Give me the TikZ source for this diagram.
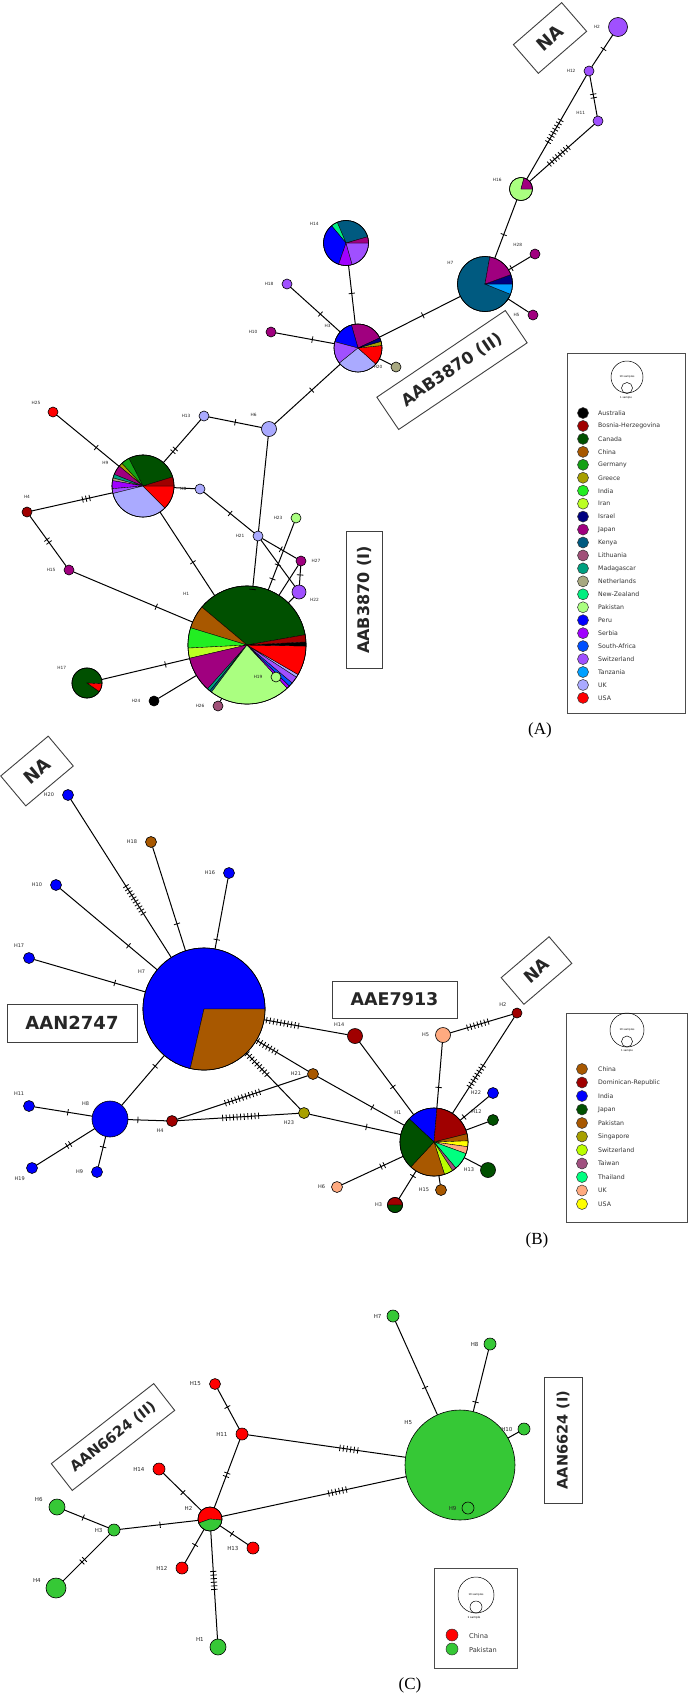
\documentclass[tikz,border=0pt]{standalone}
\usepackage{fontspec}
\setmainfont{DejaVu Sans}
\newfontfamily\capfont{Liberation Serif}
\usetikzlibrary{calc, positioning}

% --- Colours (A) ---
\definecolor{cAus}{HTML}{000000}
\definecolor{cBos}{HTML}{A00000}
\definecolor{cCan}{HTML}{005000}
\definecolor{cChi}{HTML}{A85800}
\definecolor{cGer}{HTML}{14A014}
\definecolor{cGre}{HTML}{A8A000}
\definecolor{cInd}{HTML}{22EE22}
\definecolor{cIra}{HTML}{BBFF22}
\definecolor{cIsr}{HTML}{000080}
\definecolor{cJap}{HTML}{A0007F}
\definecolor{cKen}{HTML}{005A80}
\definecolor{cLit}{HTML}{A05078}
\definecolor{cMad}{HTML}{00A080}
\definecolor{cNet}{HTML}{A8A880}
\definecolor{cNze}{HTML}{00F080}
\definecolor{cPak}{HTML}{AAFF80}
\definecolor{cPer}{HTML}{0000FF}
\definecolor{cSer}{HTML}{A000FF}
\definecolor{cSaf}{HTML}{0050FF}
\definecolor{cSwi}{HTML}{A050FF}
\definecolor{cTan}{HTML}{00A0FF}
\definecolor{cUk}{HTML}{AAAAFF}
\definecolor{cUsa}{HTML}{FF0000}
% --- Colours (B) ---
\definecolor{cChB}{HTML}{A85800}
\definecolor{cDom}{HTML}{A00000}
\definecolor{cInB}{HTML}{0000FF}
\definecolor{cJpB}{HTML}{005000}
\definecolor{cPkB}{HTML}{A85800}
\definecolor{cSin}{HTML}{A8A000}
\definecolor{cSwB}{HTML}{BBFF00}
\definecolor{cTai}{HTML}{A05080}
\definecolor{cTha}{HTML}{00FF80}
\definecolor{cUkB}{HTML}{FFAA80}
\definecolor{cUsB}{HTML}{FFFF00}
% --- Colours (C) ---
\definecolor{cChC}{HTML}{FF0000}
\definecolor{cPkC}{HTML}{36C836}

% edge with mutation ticks: from, to, number of ticks, position
\newcommand{\mutticks}[4]{%
  \coordinate (tk_mid) at ($(#1)!#4!(#2)$);
  \foreach \k in {1,...,#3}{
    \pgfmathsetmacro{\tkoff}{(\k-(#3+1)/2)*3.6}
    \coordinate (tk_pt) at ($(tk_mid)!\tkoff pt!(#2)$);
    \draw[tick] ($(tk_pt)!3.2pt!90:(#2)$) -- ($(tk_pt)!3.2pt!-90:(#2)$);
  }%
}
\newcommand{\mutedge}[4]{%
  \draw[edge] (#1) -- (#2);
  \ifnum#3>0 \mutticks{#1}{#2}{#3}{#4}\fi
}
% pie chart on a haplotype node: node, radius, slices start/end/colour
\newcommand{\hapie}[3]{%
  \foreach \sa/\ea/\col in {#3}{
    \filldraw[fill=\col, draw=black, line width=0.35pt] (#1.center) -- ++(\sa:#2) arc[start angle=\sa, end angle=\ea, radius=#2] -- cycle;
  }
  \draw[line width=0.6pt] (#1.center) circle[radius=#2];
}

\begin{document}
\begin{tikzpicture}[
    x=1pt, y=-1pt,
    label distance=5pt,
    % --- Styles ---
    hap/.style={circle, draw=black, line width=0.6pt, inner sep=0pt, outer sep=0pt, minimum size=#1},
    hlab/.style={font=\fontsize{#1}{#1}\selectfont, text=black!85},
    hlab/.default=4.3,
    edge/.style={draw, line width=1pt},
    tick/.style={draw, line width=0.8pt},
    clade/.style={draw=black!75, line width=0.9pt, inner sep=0pt, text=black!85,
        font=\fontsize{#1}{#1}\selectfont\bfseries},
    legbox/.style={draw=black!70, line width=0.8pt, inner sep=0pt},
    sizecirc/.style={circle, draw=black, line width=0.5pt, inner sep=0pt, minimum size=#1,
        font=\fontsize{2.6}{3}\selectfont},
    legdot/.style={circle, draw=black!80, line width=0.5pt, inner sep=0pt, minimum size=#1},
    legdot/.default=11pt,
    legtext/.style={anchor=west, inner sep=0pt, text=black!80, font=\fontsize{#1}{#1}\selectfont},
    legtext/.default=6.2,
    panel/.style={font=\capfont\fontsize{17}{17}\selectfont}
    ]

    \fill[white] (0,0) rectangle (688,1698);
    \useasboundingbox (0,0) rectangle (688,1698);

    % ======================= (A) =======================
    % --- 1. Pie nodes ---
    \node[hap=118pt, label={[hlab, label distance=12pt]140:H1}] (a_h1) at (247,645) {};
    \node[hap=62pt, label={[hlab]150:H9}] (a_h9) at (143,486) {};
    \node[hap=48pt, label={[hlab]145:H3}] (a_h3) at (358,348) {};
    \node[hap=55pt, label={[hlab]150:H7}] (a_h7) at (485,284) {};
    \node[hap=45pt, label={[hlab]150:H14}] (a_h14) at (346,243) {};
    \node[hap=23pt, label={[hlab]165:H16}] (a_h16) at (521,189) {};
    \node[hap=30pt, label={[hlab]150:H17}] (a_h17) at (87,683) {};

    \hapie{a_h1}{59pt}{10/140/cCan, 140/163/cChi, 163/183/cInd, 183/193/cIra, 193/228/cJap, 228/231/cMad, 231/233/cKen, 233/313/cPak, 313/316/cSer, 316/320/cSaf, 320/327/cSwi, 327/330/cUk, 330/359/cUsa, 359/363/cAus, 363/370/cBos}
    \hapie{a_h9}{31pt}{17/117/cCan, 117/133/cGer, 133/140/cGre, 140/158/cJap, 158/165/cMad, 165/170/cNet, 170/185/cSer, 185/194/cSwi, 194/315/cUk, 315/360/cUsa, 0/17/cBos}
    \hapie{a_h3}{24pt}{25/106/cJap, 106/165/cPer, 165/219/cSwi, 219/318/cUk, 318/366/cUsa, 6/16/cGre, 16/25/cIsr}
    \hapie{a_h7}{27.5pt}{80/338/cKen, 338/360/cTan, 0/20/cIsr, 20/80/cJap}
    \hapie{a_h14}{22.5pt}{16/113/cKen, 113/130/cNze, 130/251/cPer, 251/286/cSer, 286/360/cSwi, 0/16/cJap}
    \hapie{a_h16}{11.5pt}{75/360/cPak, 0/75/cJap}
    \hapie{a_h17}{15pt}{-3/325/cCan, 325/357/cUsa}

    % --- 2. Single nodes ---
    \node[hap=19pt, fill=cSwi, label={[hlab]left:H2}] (a_h2) at (618,27) {};
    \node[hap=10pt, fill=cSwi, label={[hlab]left:H12}] (a_h12) at (589,71) {};
    \node[hap=10pt, fill=cSwi, label={[hlab]160:H11}] (a_h11) at (598,121) {};
    \node[hap=10pt, fill=cJap, label={[hlab]160:H28}] (a_h28) at (535,254) {};
    \node[hap=10pt, fill=cJap, label={[hlab]left:H5}] (a_h5) at (533,315) {};
    \node[hap=10pt, fill=cSwi, label={[hlab]left:H18}] (a_h18) at (287,284) {};
    \node[hap=10pt, fill=cJap, label={[hlab]left:H10}] (a_h10) at (271,332) {};
    \node[hap=10pt, fill=cNet, label={[hlab]left:H20}] (a_h20) at (396,367) {};
    \node[hap=15pt, fill=cUk, label={[hlab]135:H6}] (a_h6) at (269,429) {};
    \node[hap=10pt, fill=cUk, label={[hlab]left:H13}] (a_h13) at (204,416) {};
    \node[hap=10pt, fill=cUsa, label={[hlab]155:H25}] (a_h25) at (53,412) {};
    \node[hap=10pt, fill=cBos, label={[hlab]above:H4}] (a_h4) at (27,512) {};
    \node[hap=10pt, fill=cJap, label={[hlab]left:H15}] (a_h15) at (69,570) {};
    \node[hap=10pt, fill=cUk, label={[hlab]left:H8}] (a_h8) at (200,489) {};
    \node[hap=10pt, fill=cUk, label={[hlab]left:H21}] (a_h21) at (258,536) {};
    \node[hap=10pt, fill=cPak, label={[hlab]left:H23}] (a_h23) at (296,518) {};
    \node[hap=10pt, fill=cJap, label={[hlab, label distance=2pt]right:H27}] (a_h27) at (301,561) {};
    \node[hap=14pt, fill=cSwi, label={[hlab, label distance=1pt]-20:H22}] (a_h22) at (299,592) {};
    \node[hap=10pt, fill=cAus, label={[hlab]left:H24}] (a_h24) at (154,701) {};
    \node[hap=10pt, fill=cLit, label={[hlab]left:H26}] (a_h26) at (218,706) {};
    \node[hap=10pt, fill=cPak, label={[hlab]left:H19}] (a_h19) at (276,677) {};

    % --- 3. Connections ---
    \mutedge{a_h2}{a_h12}{1}{0.5}
    \mutedge{a_h12}{a_h11}{2}{0.5}
    \mutedge{a_h12}{a_h16}{8}{0.51}
    \mutedge{a_h11}{a_h16}{8}{0.51}
    \mutedge{a_h16}{a_h7}{1}{0.48}
    \mutedge{a_h28}{a_h7}{1}{0.47}
    \mutedge{a_h5}{a_h7}{1}{0.52}
    \mutedge{a_h3}{a_h7}{1}{0.51}
    \mutedge{a_h14}{a_h3}{1}{0.48}
    \mutedge{a_h18}{a_h3}{1}{0.47}
    \mutedge{a_h10}{a_h3}{1}{0.475}
    \mutedge{a_h20}{a_h3}{0}{0}
    \mutedge{a_h3}{a_h6}{1}{0.52}
    \mutedge{a_h13}{a_h6}{1}{0.48}
    \mutedge{a_h9}{a_h13}{2}{0.51}
    \mutedge{a_h25}{a_h9}{1}{0.48}
    \mutedge{a_h4}{a_h9}{3}{0.51}
    \mutedge{a_h9}{a_h8}{0}{0}
    \mutedge{a_h8}{a_h21}{1}{0.52}
    \mutedge{a_h4}{a_h15}{2}{0.5}
    \mutedge{a_h15}{a_h1}{1}{0.49}
    \mutedge{a_h9}{a_h1}{1}{0.48}
    \mutedge{a_h6}{a_h21}{0}{0}
    \mutedge{a_h21}{a_h1}{1}{0.49}
    \mutedge{a_h21}{a_h27}{1}{0.53}
    \mutedge{a_h21}{a_h22}{0}{0}
    \mutedge{a_h27}{a_h22}{1}{0.45}
    \mutedge{a_h27}{a_h1}{0}{0}
    \mutedge{a_h22}{a_h1}{0}{0}
    \mutedge{a_h23}{a_h1}{1}{0.37}
    \mutticks{a_h23}{a_h1}{1}{0.48}
    \mutedge{a_h17}{a_h1}{1}{0.49}
    \mutedge{a_h24}{a_h1}{0}{0}
    \mutedge{a_h26}{a_h1}{0}{0}

    % --- 4. Clade boxes ---
    \node[clade=18, minimum width=64pt, minimum height=38pt, rotate=41] (a_na) at (550,38) {NA};
    \node[clade=16.5, minimum width=155pt, minimum height=39pt, rotate=34] (a_c2) at (452,370) {AAB3870 (II)};
    \node[clade=16, minimum width=137pt, minimum height=36pt, rotate=90] (a_c1) at (364,600) {AAB3870 (I)};

    % --- 5. Legend ---
    \node[legbox, minimum width=118pt, minimum height=360pt] (leg_a) at (626,533) {};
    \node[sizecirc=32pt] (leg_a_big) at (627,377) {10 samples};
    \node[sizecirc=11pt] (leg_a_small) at (627,388) {};
    \node[font=\fontsize{2.6}{3}\selectfont] (leg_a_one) at (626,398) {1 sample};
    \foreach \cname/\ccol [count=\i from 0] in {Australia/cAus, Bosnia-Herzegovina/cBos, Canada/cCan, China/cChi, Germany/cGer, Greece/cGre, India/cInd, Iran/cIra, Israel/cIsr, Japan/cJap, Kenya/cKen, Lithuania/cLit, Madagascar/cMad, Netherlands/cNet, New-Zealand/cNze, Pakistan/cPak, Peru/cPer, Serbia/cSer, South-Africa/cSaf, Switzerland/cSwi, Tanzania/cTan, UK/cUk, USA/cUsa}{
      \node[legdot, fill=\ccol] (leg_a_d\i) at (583,{413+\i*12.95}) {};
      \node[legtext] (leg_a_t\i) at (598,{413+\i*12.95}) {\cname};
    }
    \node[panel] (lab_a) at (540,730) {(A)};

    % ======================= (B) =======================
    % --- 1. Pie nodes ---
    \node[hap=122pt, label={[hlab=5, label distance=3pt]150:H7}] (b_h7) at (204,1009) {};
    \node[hap=68pt, label={[hlab=5, label distance=4pt]140:H1}] (b_h1) at (434,1142) {};
    \node[hap=15pt, label={[hlab=5, label distance=2pt]left:H3}] (b_h3) at (395,1205) {};

    \hapie{b_h7}{61pt}{0/257/cInB, 257/360/cPkB}
    \hapie{b_h1}{34pt}{85/137/cInB, 14/85/cDom, 2/14/cChB, -8/2/cUsB, -20/-8/cUkB, -50/-20/cTha, -57/-50/cTai, -72/-57/cSwB, -133/-72/cPkB, 137/227/cJpB}
    \hapie{b_h3}{7.5pt}{0/180/cDom, 180/360/cJpB}

    % --- 2. Single nodes ---
    \node[hap=11pt, fill=cInB, label={[hlab=5]left:H20}] (b_h20) at (68,795) {};
    \node[hap=11pt, fill=cChB, label={[hlab=5]left:H18}] (b_h18) at (151,842) {};
    \node[hap=11pt, fill=cInB, label={[hlab=5]left:H16}] (b_h16) at (229,873) {};
    \node[hap=11pt, fill=cInB, label={[hlab=5]left:H10}] (b_h10) at (56,885) {};
    \node[hap=11pt, fill=cInB, label={[hlab=5, label distance=2pt]100:H17}] (b_h17) at (29,958) {};
    \node[hap=36pt, fill=cInB, label={[hlab=5, label distance=2pt]150:H8}] (b_h8) at (110,1119) {};
    \node[hap=11pt, fill=cInB, label={[hlab=5, label distance=2pt]100:H11}] (b_h11) at (29,1106) {};
    \node[hap=11pt, fill=cInB, label={[hlab=5, label distance=1pt]-125:H19}] (b_h19) at (32,1168) {};
    \node[hap=11pt, fill=cInB, label={[hlab=5]left:H9}] (b_h9) at (97,1172) {};
    \node[hap=11pt, fill=cDom, label={[hlab=5, label distance=1pt]-140:H4}] (b_h4) at (172,1121) {};
    \node[hap=15pt, fill=cDom, label={[hlab=5, label distance=2pt]140:H14}] (b_h14) at (355,1036) {};
    \node[hap=11pt, fill=cChB, label={[hlab=5, label distance=3pt]left:H21}] (b_h21) at (313,1074) {};
    \node[hap=11pt, fill=cSin, label={[hlab=5, label distance=2pt]-150:H23}] (b_h23) at (304,1113) {};
    \node[hap=15pt, fill=cUkB, label={[hlab=5, label distance=3pt]left:H5}] (b_h5) at (443,1035) {};
    \node[hap=10pt, fill=cDom, label={[hlab=5, label distance=3pt]155:H2}] (b_h2) at (517,1013) {};
    \node[hap=11pt, fill=cInB, label={[hlab=5, label distance=3pt]left:H22}] (b_h22) at (493,1093) {};
    \node[hap=11pt, fill=cJpB, label={[hlab=5, label distance=3pt]160:H12}] (b_h12) at (493,1120) {};
    \node[hap=15pt, fill=cJpB, label={[hlab=5, label distance=3pt]left:H13}] (b_h13) at (488,1170) {};
    \node[hap=11pt, fill=cChB, label={[hlab=5, label distance=3pt]left:H15}] (b_h15) at (441,1190) {};
    \node[hap=11pt, fill=cUkB, label={[hlab=5, label distance=3pt]left:H6}] (b_h6) at (337,1187) {};

    % --- 3. Connections ---
    \mutedge{b_h20}{b_h7}{10}{0.49}
    \mutedge{b_h18}{b_h7}{1}{0.49}
    \mutedge{b_h16}{b_h7}{1}{0.49}
    \mutedge{b_h10}{b_h7}{1}{0.49}
    \mutedge{b_h17}{b_h7}{1}{0.49}
    \mutedge{b_h7}{b_h8}{1}{0.52}
    \mutedge{b_h7}{b_h14}{10}{0.52}
    \mutedge{b_h7}{b_h21}{7}{0.58}
    \mutedge{b_h7}{b_h23}{9}{0.53}
    \mutedge{b_h4}{b_h21}{11}{0.5}
    \mutedge{b_h4}{b_h23}{11}{0.52}
    \mutedge{b_h8}{b_h4}{1}{0.45}
    \mutedge{b_h11}{b_h8}{1}{0.48}
    \mutedge{b_h19}{b_h8}{2}{0.47}
    \mutedge{b_h9}{b_h8}{1}{0.47}
    \mutedge{b_h14}{b_h1}{1}{0.48}
    \mutedge{b_h21}{b_h1}{1}{0.49}
    \mutedge{b_h23}{b_h1}{1}{0.48}
    \mutedge{b_h5}{b_h1}{1}{0.49}
    \mutedge{b_h5}{b_h2}{7}{0.47}
    \mutedge{b_h2}{b_h1}{8}{0.49}
    \mutedge{b_h22}{b_h1}{1}{0.49}
    \mutedge{b_h12}{b_h1}{0}{0}
    \mutedge{b_h13}{b_h1}{0}{0}
    \mutedge{b_h15}{b_h1}{0}{0}
    \mutedge{b_h6}{b_h1}{2}{0.47}
    \mutedge{b_h3}{b_h1}{1}{0.46}

    % --- 4. Clade boxes ---
    \node[clade=18, minimum width=62pt, minimum height=39pt, rotate=40] (b_na1) at (37,771) {NA};
    \node[clade=18, minimum width=130pt, minimum height=38pt] (b_c1) at (72,1023) {AAN2747};
    \node[clade=17.5, minimum width=125pt, minimum height=37pt] (b_c2) at (394.5,999.5) {AAE7913};
    \node[clade=17, minimum width=63pt, minimum height=35pt, rotate=40.5] (b_na2) at (536.5,970.5) {NA};

    % --- 5. Legend ---
    \node[legbox, minimum width=121pt, minimum height=209pt] (leg_b) at (626.5,1117.5) {};
    \node[sizecirc=34pt] (leg_b_big) at (627,1030) {10 samples};
    \node[sizecirc=11pt] (leg_b_small) at (627,1041.5) {};
    \node[font=\fontsize{2.6}{3}\selectfont] (leg_b_one) at (627,1051) {1 sample};
    \foreach \cname/\ccol [count=\i from 0] in {China/cChB, Dominican-Republic/cDom, India/cInB, Japan/cJpB, Pakistan/cPkB, Singapore/cSin, Switzerland/cSwB, Taiwan/cTai, Thailand/cTha, UK/cUkB, USA/cUsB}{
      \node[legdot, fill=\ccol] (leg_b_d\i) at (582,{1069+\i*13.5}) {};
      \node[legtext] (leg_b_t\i) at (598,{1069+\i*13.5}) {\cname};
    }
    \node[panel] (lab_b) at (537,1240) {(B)};

    % ======================= (C) =======================
    % --- 1. Main nodes ---
    \node[hap=110pt, fill=cPkC, label={[hlab=5.5, label distance=3pt]140:H5}] (c_h5) at (460,1465) {};
    \node[hap=24pt, label={[hlab=5.5, label distance=3pt]160:H2}] (c_h2) at (210,1519) {};
    \hapie{c_h2}{12pt}{-5/200/cChC, 200/355/cPkC}

    % --- 2. Single nodes ---
    \node[hap=11pt, fill=cChC, label={[hlab=5.5]left:H15}] (c_h15) at (215,1384) {};
    \node[hap=12pt, fill=cChC, label={[hlab=5.5]left:H11}] (c_h11) at (242,1434) {};
    \node[hap=12pt, fill=cChC, label={[hlab=5.5]left:H14}] (c_h14) at (159,1469) {};
    \node[hap=16pt, fill=cPkC, label={[hlab=5.5, label distance=3pt]170:H6}] (c_h6) at (57,1507) {};
    \node[hap=12pt, fill=cPkC, label={[hlab=5.5, label distance=2pt]left:H3}] (c_h3) at (114,1530) {};
    \node[hap=20pt, fill=cPkC, label={[hlab=5.5, label distance=2pt]170:H4}] (c_h4) at (56,1588) {};
    \node[hap=12pt, fill=cChC, label={[hlab=5.5]left:H12}] (c_h12) at (182,1568) {};
    \node[hap=12pt, fill=cChC, label={[hlab=5.5]left:H13}] (c_h13) at (253,1548) {};
    \node[hap=16pt, fill=cPkC, label={[hlab=5.5, label distance=3pt]170:H1}] (c_h1) at (218,1647) {};
    \node[hap=12pt, fill=cPkC, label={[hlab=5.5, label distance=2pt]left:H7}] (c_h7) at (393,1316) {};
    \node[hap=12pt, fill=cPkC, label={[hlab=5.5, label distance=2pt]left:H8}] (c_h8) at (490,1344) {};
    \node[hap=12pt, fill=cPkC, label={[hlab=5.5, label distance=2pt]left:H10}] (c_h10) at (524,1429) {};
    \node[hap=12pt, fill=cPkC, label={[hlab=5.5, label distance=2pt]left:H9}] (c_h9) at (468,1508) {};

    % --- 3. Connections ---
    \mutedge{c_h15}{c_h11}{1}{0.46}
    \mutedge{c_h11}{c_h2}{2}{0.48}
    \mutedge{c_h11}{c_h5}{6}{0.49}
    \mutedge{c_h2}{c_h5}{6}{0.51}
    \mutedge{c_h14}{c_h2}{1}{0.47}
    \mutedge{c_h6}{c_h3}{1}{0.46}
    \mutedge{c_h3}{c_h2}{1}{0.48}
    \mutedge{c_h3}{c_h4}{2}{0.53}
    \mutedge{c_h2}{c_h12}{1}{0.53}
    \mutedge{c_h2}{c_h13}{1}{0.51}
    \mutedge{c_h2}{c_h1}{6}{0.48}
    \mutedge{c_h7}{c_h5}{1}{0.48}
    \mutedge{c_h8}{c_h5}{1}{0.48}
    \mutedge{c_h10}{c_h5}{0}{0}

    % --- 4. Clade boxes ---
    \node[clade=14.5, minimum width=130pt, minimum height=34pt, rotate=38] (c_c2) at (113,1437) {AAN6624 (II)};
    \node[clade=14.5, minimum width=126pt, minimum height=38pt, rotate=90] (c_c1) at (563,1440) {AAN6624 (I)};

    % --- 5. Legend ---
    \node[legbox, minimum width=83pt, minimum height=100pt] (leg_c) at (475.5,1618) {};
    \node[sizecirc=36pt] (leg_c_big) at (476,1595) {10 samples};
    \node[sizecirc=12pt] (leg_c_small) at (476,1607) {};
    \node[font=\fontsize{2.8}{3}\selectfont] (leg_c_one) at (474,1617.5) {1 sample};
    \node[legdot=12pt, fill=cChC] (leg_c_d0) at (452,1635) {};
    \node[legtext=6.6] (leg_c_t0) at (469,1636) {China};
    \node[legdot=12pt, fill=cPkC] (leg_c_d1) at (452,1649) {};
    \node[legtext=6.6] (leg_c_t1) at (469,1650) {Pakistan};
    \node[panel] (lab_c) at (410,1685) {(C)};

\end{tikzpicture}
\end{document}
